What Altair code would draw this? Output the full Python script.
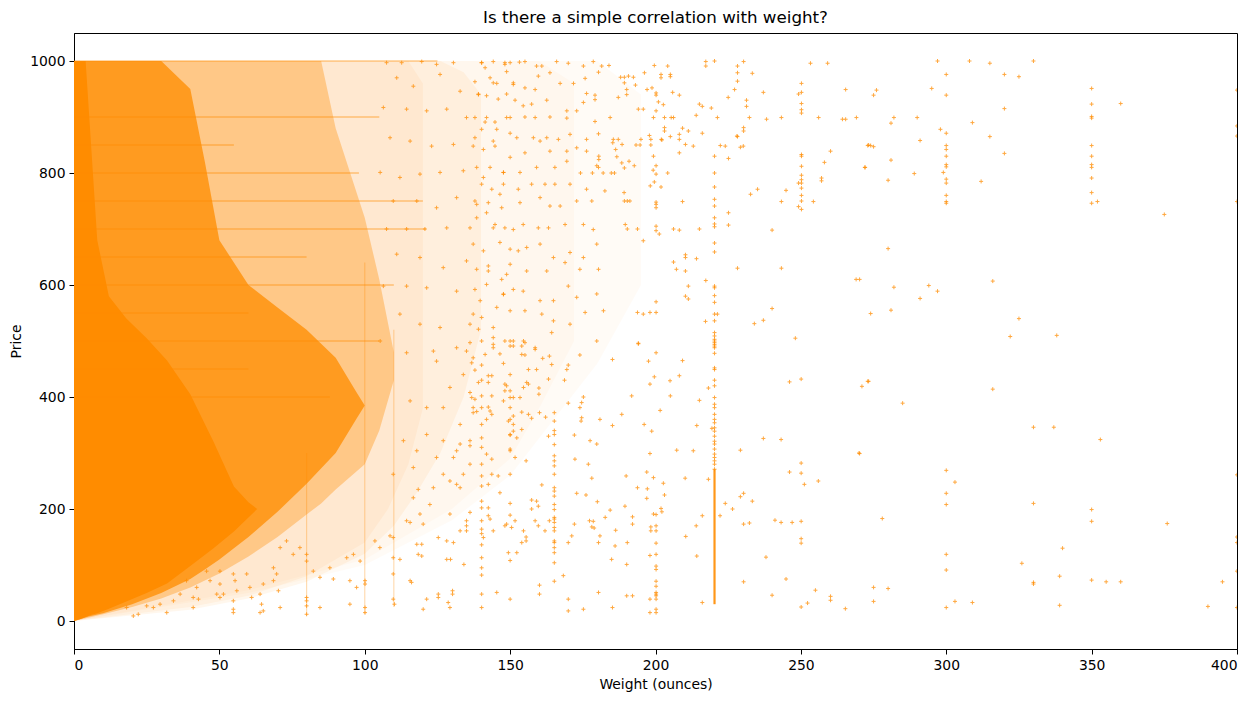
import altair as alt
import pandas as pd

ORANGE = "#FF8C00"

# ---- density bands (weight, lower price, upper price) ----
core_w = [0, 2, 4, 6, 8, 12, 18, 25, 32, 40, 48, 55, 60, 63]
core_lo = [0, 3, 7, 11, 14, 22, 35, 50, 67, 98, 130, 160, 185, 200]
core_hi = [1000, 1000, 1000, 840, 680, 580, 540, 505, 465, 405, 320, 240, 212, 200]

b2_w = [0, 5, 10, 15, 20, 30, 40, 45, 50, 60, 70, 80, 90, 97, 100]
b2_lo = [0, 8, 14, 22, 30, 50, 75, 92, 110, 150, 195, 245, 300, 360, 385]
b2_hi = [1000, 1000, 1000, 1000, 1000, 1000, 950, 820, 680, 600, 560, 520, 470, 410, 385]

b3_w = [0, 10, 20, 30, 40, 50, 60, 70, 80, 85, 90, 100, 105, 110]
b3_lo = [0, 12, 25, 40, 60, 85, 115, 150, 190, 210, 235, 280, 340, 430]
b3_hi = [1000, 1000, 1000, 1000, 1000, 1000, 1000, 1000, 1000, 1000, 880, 720, 610, 480]

b4_w = [0, 40, 60, 80, 100, 110, 118, 126, 134, 140]
b4_lo = [0, 20, 40, 70, 120, 170, 230, 300, 400, 520]
b4_hi = [1000, 1000, 1000, 1000, 1000, 1000, 1000, 1000, 980, 940]

b4b_w = [0, 40, 60, 80, 100, 108, 115, 120]
b4b_lo = [0, 25, 45, 80, 140, 200, 280, 380]
b4b_hi = [1000, 1000, 1000, 1000, 1000, 1000, 1000, 960]

b5_w = [0, 60, 100, 130, 150, 165, 180, 195]
b5_lo = [0, 50, 100, 180, 260, 360, 460, 600]
b5_hi = [1000, 1000, 1000, 1000, 1000, 1000, 1000, 940]

b5b_w = [0, 60, 100, 130, 150, 160, 172]
b5b_lo = [0, 55, 110, 200, 290, 380, 500]
b5b_hi = [1000, 1000, 1000, 1000, 1000, 1000, 960]

# ---- horizontal streaks at round prices ----
hline_price = [1000, 900, 850, 800, 750, 700, 650, 600, 550, 500, 450, 400]
hline_start = [0, 0, 0, 0, 0, 0, 0, 0, 0, 0, 0, 0]
hline_end = [125, 105, 55, 98, 120, 121, 80, 110, 60, 105, 60, 88]

# ---- vertical streaks ----
vline_w = [100, 110, 80]
vline_lo = [12, 25, 10]
vline_hi = [640, 520, 300]

# solid run of points at 220 oz
solid220_w = [220.3]
solid220_lo = [30]
solid220_hi = [271]

# ---- columns of points at fixed weights ----
col140_p = [500, 457, 430, 402, 381, 351, 327, 310, 280, 259, 241, 214, 202, 179, 164, 156, 136, 113, 95, 82, 48, 24]
col150_p = [500, 491, 440, 411, 399, 381, 360, 333, 307, 304, 262, 210, 189, 108, 39]
col165_p = [372, 357, 340, 333, 315, 295, 286, 277, 262, 238, 232, 223, 208, 199, 185, 182, 176, 167, 161, 143,
            140, 131, 122, 104, 71]
col200_p = [479, 190, 170, 161, 139, 119, 98, 92, 71, 62, 51, 48, 45, 39, 21, 15]
col220_p = [1000, 830, 800, 775, 753, 741, 720, 709, 704, 675, 659, 598, 595, 581, 569, 548, 536, 515, 509, 503,
            497, 491, 500, 494, 488, 478, 452, 449, 430, 420, 399, 387, 381, 369, 360, 354, 345, 339, 330, 321,
            316, 307, 298, 292, 286, 280, 271]

# ---- scattered points (weight, price) ----
pts_low_mid = [(136.2,497),(137.3,470),(136.8,461),(137.9,448),(139.1,426),(136.2,408),(136.8,399),(137.9,396),(138.5,374),(137.3,372),(136.2,313),(136.2,280),(136.2,194),(141.4,476),(142.5,438),(142.5,426),(143.7,438),(143.7,402),(142.5,382),(143.1,375),(143.7,369),(141.9,360),(141.9,298),(143.7,289),(142.5,244),(142.5,202),(142.5,188),(143.1,182),(140.8,149),(144.2,161),(143.7,262),(145.9,259),(146.5,229),(145.4,51),(144.2,494),(144.2,488),(147.7,460),(146.5,477),(148.2,423),(148.8,420),(148.2,411),(147.7,393),(151.1,399),(151.1,366),(151.1,351),(149.4,357),(151.1,339),(152.3,327),(150,332),(151.7,292),(148.8,173),(148.2,170),(150.5,167),(151.7,179),(149.4,122),(152.3,122),(154.6,161),(154,140),(155.5,143),(155.5,150),(153.4,399),(154,373),(154,342),(154.6,417),(155.5,286),(156.3,449),(155.7,426),(156.3,423),(156.3,369),(157.4,362),(159.1,449),(159.9,416),(159.9,405),(161.2,469),(163.5,473),(164.3,458),(163.2,432),(159.1,214),(159.7,205),(157.4,200),(157.4,216),(158.6,179),(159.7,170),(160.9,243),(162,161),(163.5,179),(163.2,330),(162.2,364),(160.1,372),(160.1,64),(160.1,48),(154,476),(154,491),(155.1,475),(151.1,491),(154.6,500),(158.6,485),(168.3,81),(170,140),(170,39),(170,18),(171.2,152),(172.3,289),(172.9,228),(172.1,173),(168.7,430),(170,389),(169.5,449),(170,457),(174,475),(175.2,400),(174.6,390),(174,381),(174.6,363),(174.4,357),(172.1,332),(176.9,280),(176.1,225),(177.5,322),(178.1,255),(177.3,179),(178.6,178),(178.1,168),(178.9,166),(180,213),(180.9,152),(180.4,140),(180.4,51),(179.8,316),(180.9,360),(175.2,21),(182.7,185),(184.4,198),(184.9,110),(185.2,349),(185.2,467),(185.2,24),(186.3,162),(186.1,134),(188.4,369),(189.5,205),(189.9,259),(190.1,101),(190.3,140),(190.1,45),(192.1,45),(192.1,186),(192.1,173),(191.8,402),(193.8,238),(194.1,495),(196.1,351),(197,266),(197.2,236),(197,219),(198.1,117),(198.4,168),(198.4,161),(198.1,39),(198.1,15),(197.6,464),(198.1,423),(198.7,339),(198.1,299),(199.3,256),(199.3,191),(199.6,436),(201.6,376),(201.9,201),(202.2,195),(202.7,246),(203.1,225),(205,429),(205.1,402),(208.2,438),(209.3,465),(207.3,305),(210.2,255),(210.4,151),(213,304),(214.2,349),(214,170),(214.2,116),(215.1,394),(216.1,188),(216.1,33),(218.2,416),(218.2,253),(219.4,344),(222.2,188),(224,210),(226.5,200),(229.2,305),(229.2,222),(230.3,228),(230.3,173),(230.3,70),(232.3,175),(233.3,214),(237.1,326),(238,114),(240.1,46),(241.1,180),(243.2,324),(243.2,176),(244.9,75),(246.1,427),(246.1,266),(247,176),(250.1,432),(250.1,282),(250.1,264),(251.2,244),(250.1,178),(250.1,147),(250.1,139),(250.1,25),(252.3,32),(255,55),(256,250),(260.2,44),(260.2,37),(265.3,22),(270.2,299),(273.3,428)]

pts_high_mid = [(199.6,992),(204.2,991),(217.3,999),(217.3,991),(228.2,991),(228.2,979),(228.2,964),(230.3,999),(233.3,978),(237.1,944),(225,935),(227.2,949),(231.3,930),(231.3,919),(215.1,923),(216.1,919),(219.2,916),(221.3,899),(232.3,899),(238.2,896),(243.3,899),(250.2,960),(250.2,944),(250.2,924),(250.2,913),(250.2,907),(249.2,941),(256.1,899),(264.3,896),(265.4,896),(269.1,899),(265.4,949),(253.3,996),(259.2,996),(273.3,850),(260.2,839),(258.1,819),(272.1,810),(250.2,833),(250.2,830),(250.2,812),(250.2,796),(250.2,788),(250.2,782),(250.2,773),(250.2,760),(250.2,750),(250.2,735),(249.2,782),(249.2,740),(257.1,791),(257.1,786),(254.3,749),(244.9,769),(243.3,749),(235.1,771),(232.7,762),(230.2,848),(229.2,846),(230.3,881),(230.3,875),(228,866),(224,848),(222.3,849),(225.1,826),(228.2,865),(216.1,871),(214,903),(213,848),(210.3,851),(209.3,880),(211.3,875),(208.2,869),(208.2,860),(205.1,865),(203.1,881),(203.1,875),(202.2,859),(208.2,836),(204.2,800),(209.3,749),(206.2,700),(208.2,698),(215.1,700),(210.3,654),(210.3,649),(214.1,647),(206.2,641),(207.2,628),(210.3,625),(217.3,608),(211.3,598),(210.3,580),(211.3,575),(221.3,548),(217.2,535),(225.1,729),(225.1,707),(228.2,630),(240.1,698),(243.3,630),(240.1,558),(237.1,537),(234,531),(248.1,505),(270.2,610),(200.2,748),(200.2,744),(200.2,738),(200.2,705),(200.2,697),(201.3,691),(200.2,570),(198.1,551),(200.2,551),(195.8,548),(193.8,551),(194.1,496),(200.2,813),(200.2,798),(199.2,805),(198.4,860),(199.3,899),(203.1,899),(205.4,899),(206.2,899),(202,860),(197.9,867),(195.8,914),(194.1,914),(200.2,911),(201,927),(202.7,922),(200.2,943),(200.2,939),(201.9,970),(201.9,976),(205.1,976),(205.1,972),(208.2,939),(205.9,944),(196.2,979),(193.1,957),(190.1,949),(190.1,940),(190.7,973),(192.4,971),(189.3,971),(189.3,961),(188,971),(184,992),(187.2,935),(197.1,949),(198.8,952),(191.2,750),(189.3,750),(190.3,750),(189.2,765),(189.6,708),(190.3,700),(193.8,700),(195.8,679),(192.7,813),(190.9,821),(189.3,809),(186.7,829),(188.4,818),(188.5,851),(185.5,860),(187.2,860),(186.3,842),(185.3,854),(195,860),(193.3,850),(194.7,850),(198.4,850),(199.3,830),(201.9,775),(198.2,777),(199.6,784),(184.8,800),(185.9,800),(182,800),(178.3,800),(174.2,800),(180.4,810),(179.8,813),(180.5,830),(180.5,824),(179.2,939),(179.2,931),(180.4,980),(180.4,870)]

pts_high_left = [(140.2,997),(144.2,999),(148.2,997),(150,997),(153.2,998),(155.1,999),(159.1,991),(160.9,991),(166,999),(170,996),(175.2,991),(178.6,999),(181.5,991),(137.9,963),(141.4,988),(143.1,970),(145.4,960),(148.8,981),(151.1,961),(155.1,952),(158.6,949),(159.7,973),(163.7,979),(167.2,960),(171.8,960),(175.8,969),(176.3,942),(139.1,941),(141.9,938),(145.9,932),(148.8,941),(151.7,930),(154.5,920),(157.4,923),(162.6,930),(169.5,911),(172.9,911),(175.2,926),(137.9,899),(141.4,891),(144.8,891),(150,899),(155.1,900),(158.6,899),(163.7,900),(169.5,898),(179.2,892),(184.4,899),(140.2,878),(145.4,878),(150,871),(158,863),(162.6,863),(166.6,860),(170.6,869),(176.3,860),(137.3,848),(140.8,842),(144.8,848),(150,828),(155.1,836),(160.3,857),(163.7,839),(169.5,839),(172.9,845),(176.3,839),(138.5,810),(143.1,810),(147.7,801),(153.4,801),(159.1,810),(165.4,810),(169.5,821),(140.2,780),(143.7,771),(147.7,780),(152.8,771),(157.4,780),(162,780),(165.4,780),(170.6,780),(176.3,771),(182.6,768),(137.9,750),(142.5,747),(147.1,738),(153.4,747),(160.3,756),(163.7,741),(167.2,741),(172.9,750),(178.1,750),(138.5,720),(141.9,729),(144.8,708),(148.2,702),(151.1,699),(154.5,708),(159.7,702),(163.2,702),(168.9,708),(175.2,708),(178.6,699),(137.3,673),(140.8,661),(146.5,676),(150,664),(155.7,667),(160.3,673),(164.9,649),(170.6,658),(175.2,649),(179.8,673),(138.5,628),(142.5,634),(147.1,610),(150,637),(155.7,625),(162.6,625),(168.9,640),(174,628),(180.4,628),(137.9,592),(141.9,601),(147.7,584),(151.1,592),(154.5,589),(160.3,572),(164.9,572),(170,598),(172.9,578),(179.8,584),(137.3,548),(140.2,542),(145.4,560),(150,554),(155.1,554),(160.9,548),(164.9,536),(170.6,530),(175.8,551),(182.1,554),(139.1,521),(144.2,506),(148.2,500),(155.1,497),(158.6,488),(164.3,515),(179.8,500)]

pts_upper_band = [(107.5,997),(112.7,997),(119.6,999),(124.7,994),(130.5,997),(140.2,997),(148.2,994),(111,970),(116.7,955),(125.9,976),(132.8,946),(139.1,940),(144.2,961),(151.1,958),(106.4,917),(114.4,914),(121.3,911),(128.2,914),(135,899),(141.9,899),(148.8,899),(108.7,863),(115.6,857),(123,848),(130.5,851),(137.9,863),(144.2,857),(152.3,863),(105.3,801),(112.1,792),(119,798),(125.9,801),(133.9,804),(140.8,792),(147.7,801),(109.8,750),(117.9,750),(124.7,738),(131.6,756),(138.5,744),(146.5,762),(152.8,661),(107.5,700),(114.4,700),(120.7,700),(128.2,702),(136.2,702),(144.2,702),(111,655),(119,649),(127,631),(135,643),(142.5,625),(148.8,619),(106.4,598),(114.4,598),(121.3,595),(131.6,589),(139.7,572),(147.7,583),(112.1,548),(119,530),(125.9,524),(136.2,530),(144.2,524),(151.1,500),(105.3,500),(114.4,479),(123.6,482),(131.6,488)]

pts_far = [(297,1000),(308,1000),(315,996),(330,1000),(300,976),(320,976),(325,972),(295,951),(276,948),(275,939),(300,939),(350,951),(350,923),(360,924),(320,915),(282,899),(290,899),(350,901),(350,898),(281,889),(309,890),(298,878),(300,871),(315,865),(291,858),(273,849),(274,849),(275,847),(300,849),(300,842),(350,849),(320,835),(300,830),(350,830),(281,823),(272,810),(300,815),(300,811),(350,815),(350,810),(289,799),(299,801),(280,787),(300,789),(300,782),(312,785),(350,791),(300,760),(350,765),(300,749),(300,746),(350,746),(352,749),(375,726),(280,665),(269,610),(282,596),(294,599),(297,589),(316,607),(291,576),(274,549),(281,555),(325,540),(322,508),(338,510),(400,948),(400,884),(400,866),(400,749),(271,419),(273,428),(285,389),(316,414),(270,300),(330,346),(337,346),(353,324),(300,269),(303,248),(300,228),(300,208),(330,210),(350,199),(350,178),(376,174),(278,183),(340,130),(300,119),(300,91),(326,103),(339,80),(330,69),(330,66),(350,73),(355,70),(360,70),(275,60),(280,58),(275,35),(300,24),(303,35),(309,33),(339,28),(390,26),(395,70),(400,261),(400,150),(400,140),(400,89),(400,24)]

pts_low_left = [(41,24),(31.9,15),(20.4,9),(49.1,48),(50.2,42),(54.8,21),(54.8,15),(64,15),(65.1,18),(70.9,24),(80,12),(80,27),(80,36),(80,42),(84.6,24),(94.9,30),(100.1,15),(100.1,24),(100.1,66),(100.1,72),(109.8,39),(110.2,30),(120.1,21),(121.3,39),(125.3,48),(125.3,42),(128.7,33),(129.3,24),(130.2,54),(130.2,48),(134.1,101),(128.2,110),(129.5,110),(130.5,140),(135,161),(135,170),(135,179),(125.3,149),(128.2,143),(119.6,137),(117.9,137),(118.4,119),(119.6,116),(115.6,72),(116.1,69),(112.1,110),(109.8,84),(109.8,113),(109.8,149),(108.7,152),(114.4,179),(115.6,176),(120.1,173),(119,191),(116.7,220),(118.4,235),(122.4,208),(123.6,238),(127,262),(129.3,250),(132.8,238),(133.9,262),(130.5,292),(132.8,316),(136.2,322),(132.8,351),(137.3,381),(127,381),(121.3,333),(105.2,131),(103.5,143),(98.4,107),(96.1,119),(93.8,113),(94.9,72),(97.2,60),(89.2,75),(88,95),(84.6,78),(82.3,89),(80,107),(80,119),(77.7,131),(75.4,119),(73.1,143),(70.9,131),(68.6,95),(69.7,84),(68.6,72),(70.3,54),(65.1,66),(64,48),(64.5,30),(59.4,84),(60.5,60),(61.1,42),(54.8,84),(55.4,72),(56,54),(54.8,36),(50.2,89),(50.2,66),(51.4,48),(45.6,89),(46.8,72),(42.2,60),(41,42),(42.8,39),(38.7,72),(36.5,48),(34.2,36),(29.6,30),(27.3,24),(25,27),(22.1,12),(18.1,24),(131.6,304),(116.7,274),(117.9,304),(113.3,322),(124.7,292),(109.8,262),(127,322),(131.6,244),(132.8,161),(129.3,191),(121.3,381),(115.6,393),(133.9,440),(124.7,464),(129.3,417),(135,482)]

# ---- axis ticks ----
x_ticks = [0, 50, 100, 150, 200, 250, 300, 350, 400]
y_ticks = [0, 200, 400, 600, 800, 1000]

# ---------------- build tables ----------------
def band(ws, los, his):
    return pd.DataFrame({"w": ws, "lo": los, "hi": his})

rows = []
for grp in (pts_low_mid, pts_high_mid, pts_high_left, pts_upper_band, pts_far, pts_low_left):
    rows.extend(grp)
for wv, col in ((140.2, col140_p), (150.0, col150_p), (165.2, col165_p), (200.2, col200_p), (220.3, col220_p)):
    rows.extend((wv, p) for p in col)
pts = pd.DataFrame(rows, columns=["w", "p"])

hl = pd.DataFrame({"p": hline_price, "w0": hline_start, "w1": hline_end})
vl = pd.DataFrame({"w": vline_w, "lo": vline_lo, "hi": vline_hi})
s220 = pd.DataFrame({"w": solid220_w, "lo": solid220_lo, "hi": solid220_hi})

FONT = "DejaVu Sans"
xscale = alt.Scale(domain=[0, 400], nice=False, zero=False)
yscale = alt.Scale(domain=[-50, 1050], nice=False, zero=False)
axis_style = dict(grid=False, domainColor="black", tickColor="black", tickSize=5, labelPadding=4,
                  labelFont=FONT, labelFontSize=13.9, labelColor="black",
                  titleFont=FONT, titleFontSize=13.9, titleFontWeight="normal", titleColor="black",
                  titlePadding=6, format="d")
xaxis = alt.Axis(values=x_ticks, title="Weight (ounces)", **axis_style)
yaxis = alt.Axis(values=y_ticks, title="Price", **axis_style)


def area_layer(df, op):
    return alt.Chart(df).mark_area(color=ORANGE, opacity=op, clip=True, interpolate="linear").encode(
        x=alt.X("w:Q", scale=xscale, axis=xaxis),
        y=alt.Y("lo:Q", scale=yscale, axis=yaxis),
        y2="hi:Q",
    )


layers = [
    area_layer(band(b5_w, b5_lo, b5_hi), 0.035),
    area_layer(band(b5b_w, b5b_lo, b5b_hi), 0.03),
    area_layer(band(b4_w, b4_lo, b4_hi), 0.07),
    area_layer(band(b4b_w, b4b_lo, b4b_hi), 0.06),
    area_layer(band(b3_w, b3_lo, b3_hi), 0.35),
    area_layer(band(b2_w, b2_lo, b2_hi), 0.76),
    area_layer(band(core_w, core_lo, core_hi), 1.0),
    alt.Chart(hl).mark_rule(color=ORANGE, opacity=0.45, strokeWidth=1.3, clip=True).encode(
        x=alt.X("w0:Q", scale=xscale, axis=xaxis), x2="w1:Q",
        y=alt.Y("p:Q", scale=yscale, axis=yaxis)),
    alt.Chart(vl).mark_rule(color=ORANGE, opacity=0.3, strokeWidth=1.2, clip=True).encode(
        x=alt.X("w:Q", scale=xscale, axis=xaxis),
        y=alt.Y("lo:Q", scale=yscale, axis=yaxis), y2="hi:Q"),
    alt.Chart(s220).mark_rule(color=ORANGE, opacity=0.9, strokeWidth=2.2, clip=True).encode(
        x=alt.X("w:Q", scale=xscale, axis=xaxis),
        y=alt.Y("lo:Q", scale=yscale, axis=yaxis), y2="hi:Q"),
    alt.Chart(pts).mark_point(shape="M-1,0L1,0M0,-1L0,1", filled=False, size=16, strokeWidth=1,
                              color=ORANGE, opacity=0.75, clip=True).encode(
        x=alt.X("w:Q", scale=xscale, axis=xaxis),
        y=alt.Y("p:Q", scale=yscale, axis=yaxis)),
]

chart = alt.layer(*layers).properties(
    width=1163,
    height=616,
    background="white",
    title=alt.TitleParams("Is there a simple correlation with weight?", fontSize=16.7, font=FONT,
                          fontWeight="normal", color="black", anchor="middle", offset=6),
    autosize=alt.AutoSizeParams(type="none"),
    padding={"left": 66, "top": 25, "right": 15, "bottom": 45},
).configure_view(stroke="black", strokeWidth=1)

chart.save("out.html", embed_options={"renderer": "svg", "actions": False})
